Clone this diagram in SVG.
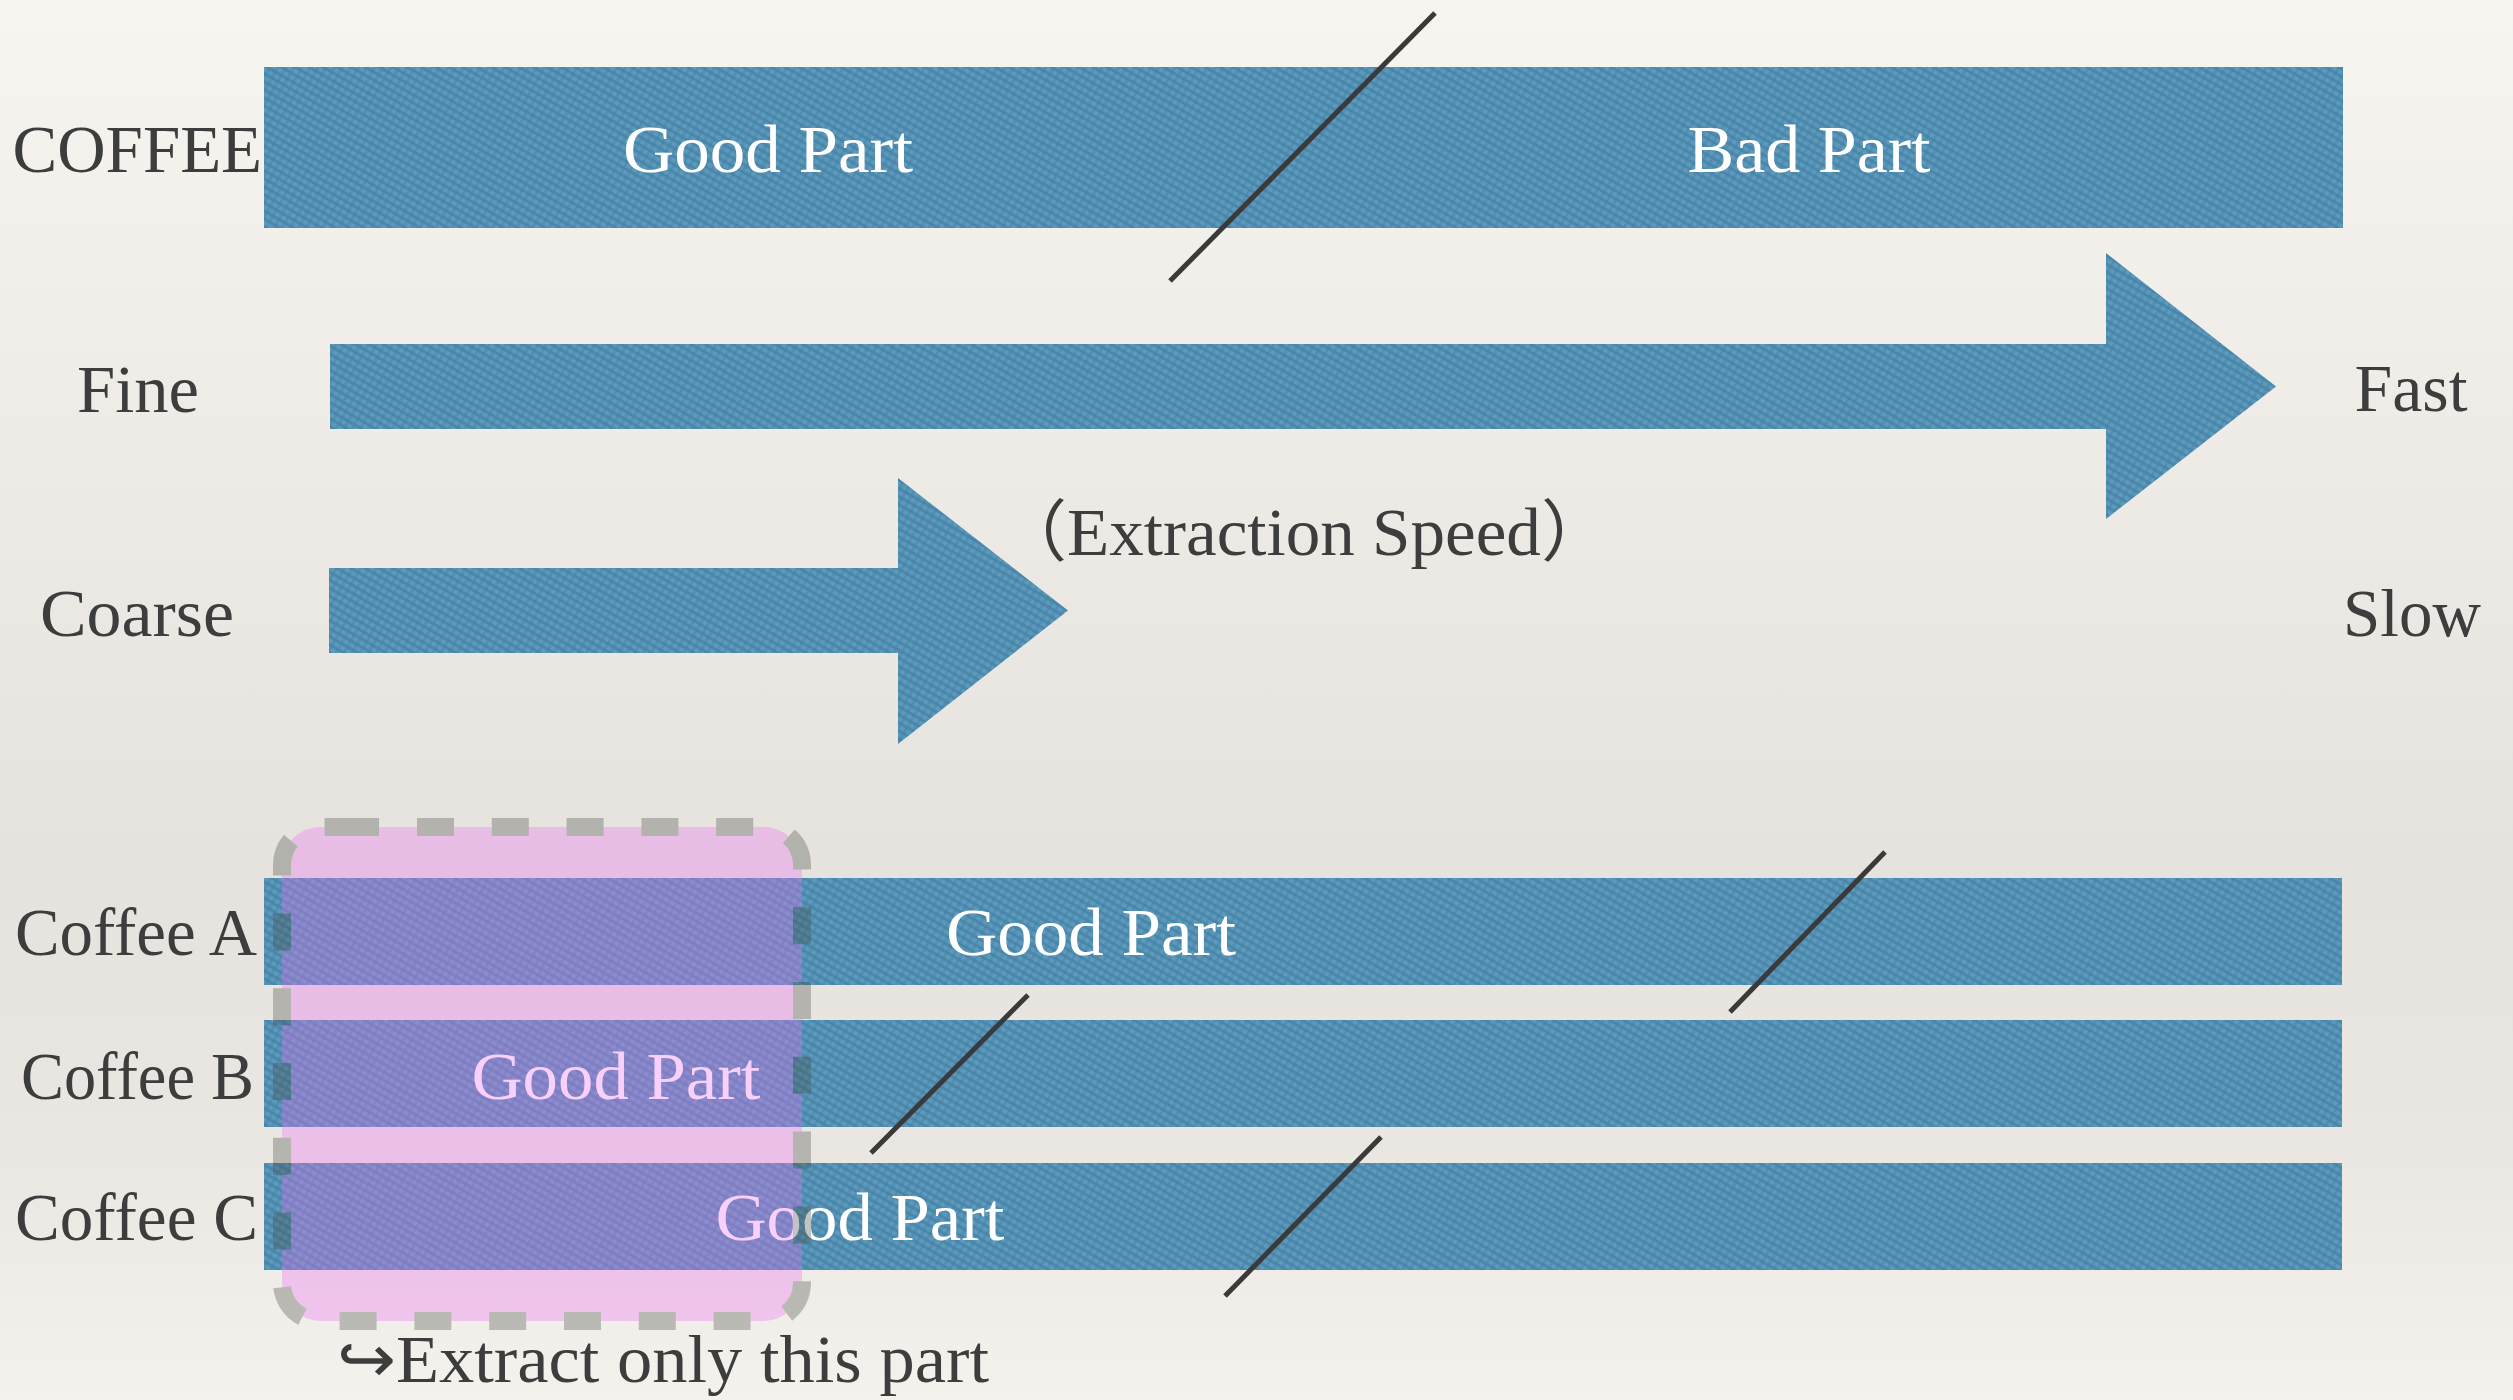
<svg xmlns="http://www.w3.org/2000/svg" width="2513" height="1400" viewBox="0 0 2513 1400">
  <defs>
    <linearGradient id="bgGrad" x1="0" y1="0" x2="0" y2="1">
      <stop offset="0" stop-color="#f7f5f0"/>
      <stop offset="0.3" stop-color="#efece7"/>
      <stop offset="0.62" stop-color="#e6e3de"/>
      <stop offset="0.82" stop-color="#eae7e2"/>
      <stop offset="1" stop-color="#f4f2ed"/>
    </linearGradient>
    <pattern id="weave" width="7" height="7" patternUnits="userSpaceOnUse" patternTransform="rotate(30)">
      <rect width="7" height="7" fill="#5c99bd"/>
      <rect width="7" height="3" fill="#4a88ac"/>
      <rect width="2.5" height="7" fill="#44809f" opacity="0.45"/>
    </pattern>
  </defs>
  <style>
    .bar { fill: url(#weave); }
    .lbl { font-family: "Liberation Serif", "Noto Sans CJK JP", serif; font-size: 67px; fill: #3d3d3d; }
    .in { font-family: "Liberation Serif", serif; font-size: 67px; fill: #ffffff; text-anchor: middle; }
    .mid { text-anchor: middle; }
    .end { text-anchor: end; }
    .cut { stroke: #3a3a3a; stroke-width: 5; fill: none; }
    .dash { fill: none; stroke: #484c44; stroke-width: 18; stroke-dasharray: 37 37.8; }
  </style>

  <rect id="bg" x="0" y="0" width="2513" height="1400" fill="url(#bgGrad)"/>

  <g id="coffee">
    <rect class="bar" x="264" y="67" width="2079" height="161"/>
    <text class="lbl end" x="262" y="172">COFFEE</text>
    <text class="in" x="768" y="172" textLength="290" lengthAdjust="spacingAndGlyphs">Good Part</text>
    <text class="in" x="1809" y="172" textLength="243" lengthAdjust="spacingAndGlyphs">Bad Part</text>
  </g>

  <g id="fine-arrow">
    <polygon class="bar" points="330,344 2106,344 2106,253 2276,386.5 2106,519 2106,429 330,429"/>
    <text class="lbl mid" x="138" y="412" textLength="122" lengthAdjust="spacingAndGlyphs">Fine</text>
    <text class="lbl mid" x="2411" y="411" textLength="113" lengthAdjust="spacingAndGlyphs">Fast</text>
  </g>

  <g id="coarse-arrow">
    <polygon class="bar" points="329,568 898,568 898,478 1068,610.5 898,744 898,653 329,653"/>
    <text class="lbl mid" x="137" y="636" textLength="194" lengthAdjust="spacingAndGlyphs">Coarse</text>
    <text class="lbl mid" x="2412" y="636">Slow</text>
  </g>

  <text id="speed-label" class="lbl" x="998" y="555" textLength="612" lengthAdjust="spacingAndGlyphs">（Extraction Speed）</text>

  <g id="coffee-a">
    <rect class="bar" x="264" y="878" width="2078" height="107"/>
    <text class="lbl end" x="257" y="955" textLength="242" lengthAdjust="spacingAndGlyphs">Coffee A</text>
    <text class="in" x="1091" y="955" textLength="290" lengthAdjust="spacingAndGlyphs">Good Part</text>
  </g>

  <g id="coffee-b">
    <rect class="bar" x="264" y="1020" width="2078" height="107"/>
    <text class="lbl end" x="254" y="1099" textLength="233" lengthAdjust="spacingAndGlyphs">Coffee B</text>
    <text class="in" x="616" y="1099" textLength="289" lengthAdjust="spacingAndGlyphs">Good Part</text>
  </g>

  <g id="coffee-c">
    <rect class="bar" x="264" y="1163" width="2078" height="107"/>
    <text class="lbl end" x="258" y="1240" textLength="243" lengthAdjust="spacingAndGlyphs">Coffee C</text>
    <text class="in" x="860" y="1240" textLength="289" lengthAdjust="spacingAndGlyphs">Good Part</text>
  </g>

  <g id="connectors">
    <line class="cut" x1="1435" y1="13" x2="1170" y2="281"/>
    <line class="cut" x1="1885" y1="852" x2="1730" y2="1012"/>
    <line class="cut" x1="1028" y1="995" x2="871" y2="1153"/>
    <line class="cut" x1="1381" y1="1137" x2="1225" y2="1296"/>
  </g>

  <g id="highlight" opacity="0.32">
    <rect x="282" y="827" width="520" height="494" rx="38" fill="#ee6ef4"/>
    <path class="dash" d="M417,827 H764 A38,38 0 0 1 802,865 V1283 A38,38 0 0 1 764,1321 H320 A38,38 0 0 1 282,1283 V865 A38,38 0 0 1 320,827 H379"/>
    <line x1="361" y1="827" x2="379" y2="827" stroke="#484c44" stroke-width="18"/>
  </g>

  <text id="extract-label" class="lbl" x="337" y="1382" textLength="652" lengthAdjust="spacingAndGlyphs">↪Extract only this part</text>
</svg>
